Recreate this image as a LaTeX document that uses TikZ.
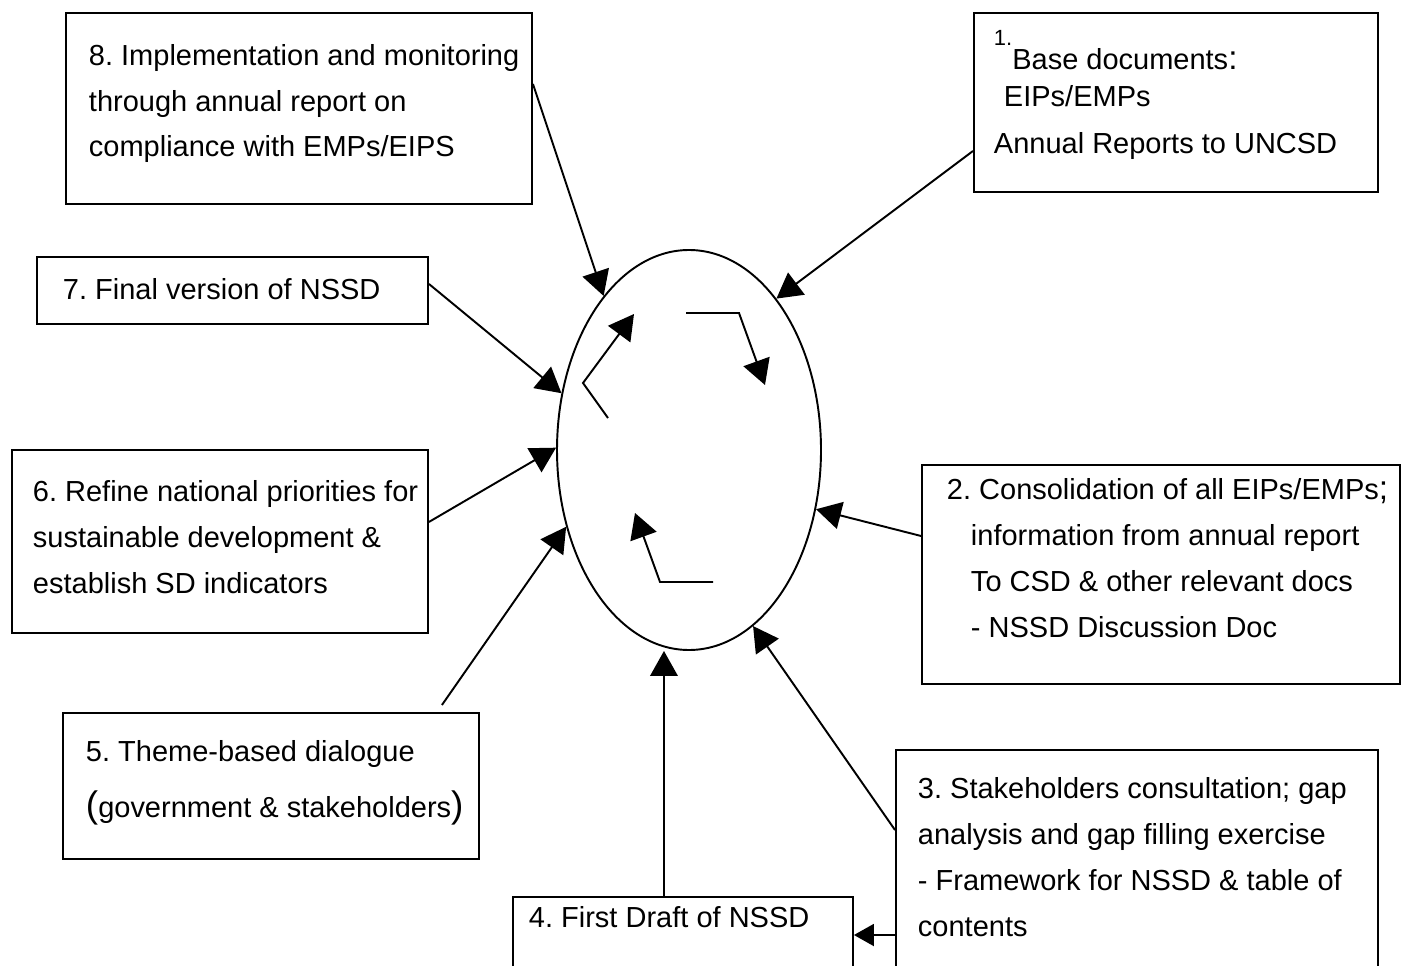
\documentclass[tikz,border=0pt]{standalone}
\usepackage{fontspec}
\setmainfont{Liberation Sans}
\frenchspacing
\usetikzlibrary{shapes.geometric,arrows.meta}

\begin{document}
\begin{tikzpicture}[>={Triangle[length=5mm,width=5.5mm]}, line width=1.1pt,
    box/.style={draw, rectangle, anchor=north west, inner sep=0pt},
    txt/.style={anchor=base west, align=left, inner sep=0pt, font=\fontsize{16.5}{26}\selectfont}]
  \useasboundingbox (0,0) rectangle (28.18,-19.32);

  % the cycle in the middle
  \node[draw, ellipse, minimum width=5.28cm, minimum height=8cm] (ell) at (13.78,-9) {};

  % the eight steps (texts sit on the baseline of their last line)
  \node[box, minimum width=9.32cm, minimum height=3.82cm] (b8) at (1.30,-0.24) {};
  \node[txt] (t8) at ([shift={(0.46,-2.90)}]b8.north west)
    {8. Implementation and monitoring\\through annual report on\\compliance with EMPs/EIPS};

  \node[box, minimum width=8.08cm, minimum height=3.58cm] (b1) at (19.46,-0.24) {};
  \node[txt] (t1) at ([shift={(0.40,-2.84)}]b1.north west)
    {\raisebox{14pt}{\fontsize{12.5}{12.5}\selectfont 1.}Base documents{\fontsize{19}{19}\selectfont:}\\[-5pt]
     \hspace*{2mm}EIPs/EMPs\\[1pt]Annual Reports to UNCSD};

  \node[box, minimum width=7.82cm, minimum height=1.34cm] (b7) at (0.72,-5.12) {};
  \node[txt] (t7) at ([shift={(0.52,-0.88)}]b7.north west) {7. Final version of NSSD};

  \node[box, minimum width=8.32cm, minimum height=3.66cm] (b6) at (0.22,-8.98) {};
  \node[txt] (t6) at ([shift={(0.42,-2.88)}]b6.north west)
    {6. Refine national priorities for\\sustainable development \&\\establish SD indicators};

  \node[box, minimum width=9.56cm, minimum height=4.38cm] (b2) at (18.42,-9.28) {};
  \node[txt] (t2) at ([shift={(0.50,-3.46)}]b2.north west)
    {2. Consolidation of all EIPs/EMPs{\fontsize{19}{19}\selectfont;}\\
     \hspace*{4.8mm}information from annual report\\
     \hspace*{4.8mm}To CSD \& other relevant docs\\
     \hspace*{4.8mm}- NSSD Discussion Doc};

  \node[box, minimum width=8.32cm, minimum height=2.92cm] (b5) at (1.24,-14.24) {};
  \node[txt] (t5) at ([shift={(0.46,-2.10)}]b5.north west)
    {5. Theme-based dialogue\\[5.7pt]{\fontsize{21}{21}\selectfont(}government \& stakeholders{\fontsize{21}{21}\selectfont)}};

  \node[box, minimum width=9.64cm, minimum height=5.6cm] (b3) at (17.90,-14.98) {};
  \node[txt] (t3) at ([shift={(0.44,-3.74)}]b3.north west)
    {3. Stakeholders consultation; gap\\analysis and gap filling exercise\\- Framework for NSSD \& table of\\contents};

  \node[box, minimum width=6.80cm, minimum height=2cm] (b4) at (10.24,-17.92) {};
  \node[txt] (t4) at ([shift={(0.32,-0.62)}]b4.north west) {4. First Draft of NSSD};

  \coordinate (p4) at ([xshift=-3.8mm]b4.north);
  \coordinate (p3) at ([yshift=-3.72cm]b3.north west);

  \path[->]
    ([yshift=4.9mm]b8.east) edge (ell.119)
    ([yshift=-9.7mm]b1.west) edge (ell.60)
    ([yshift=1.3mm]b7.east) edge (ell.156)
    ([yshift=3.9mm]b6.east) edge (ell.179)
    ([xshift=-7.6mm,yshift=1.4mm]b5.north east) edge (ell.212)
    ([yshift=7.7mm]b2.west) edge (ell.-25)
    ([yshift=-16.2mm]b3.north west) edge (ell.-70)
    (p4) edge (p4 |- ell.south)
    (p3) edge[-{Triangle[length=4mm,width=4.4mm]}] (p3 -| b4.east);

  % arrows going round inside
  \draw[->, shift={(ell.center)}] (-1.62,0.64) -- (-2.12,1.34) -- (-1.10,2.72);
  \draw[->, shift={(ell.center)}] (-0.06,2.74) -- (1.00,2.74) -- (1.52,1.30);
  \draw[->, shift={(ell.center)}] (0.48,-2.64) -- (-0.58,-2.64) -- (-1.08,-1.26);
\end{tikzpicture}
\end{document}
